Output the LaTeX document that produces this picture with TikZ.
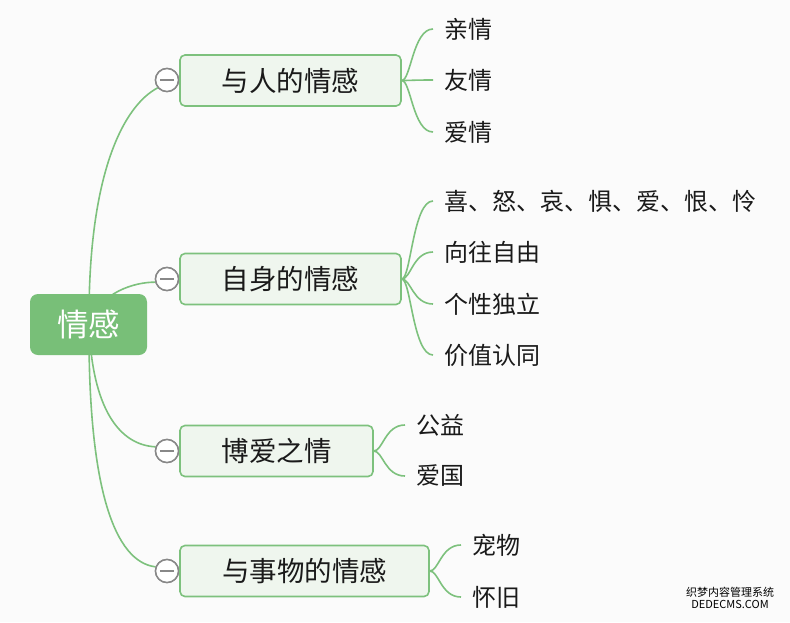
\documentclass[tikz,border=0pt]{standalone}
\usepackage{fontspec}
\setmainfont{Noto Sans CJK SC}
\usetikzlibrary{calc}
\definecolor{lg}{HTML}{7DC17D}
\definecolor{rootg}{HTML}{78BF78}
\definecolor{boxfill}{HTML}{EFF6EE}
\definecolor{cgray}{HTML}{888888}
\definecolor{bgc}{HTML}{FBFBFB}
\definecolor{txt}{HTML}{1A1A1A}
\tikzset{
  rootbox/.style={fill=rootg, rounded corners=8pt, minimum width=117pt, minimum height=61pt, text=white, font=\fontsize{31.5}{33}\selectfont, inner sep=0pt},
  branchbox/.style={draw=lg, fill=boxfill, line width=1.6pt, rounded corners=5pt, minimum height=51pt, text=txt, font=\fontsize{27.5}{29}\selectfont, inner sep=0pt},
  leaf/.style={anchor=west, inner xsep=11pt, inner ysep=0pt, text=txt, font=\fontsize{24}{25}\selectfont},
  conn/.style={draw=lg, line width=1.6pt},
  collapse/.style={circle, draw=cgray, fill=white, line width=1.5pt, minimum size=23pt, inner sep=0pt},
  minusbar/.style={draw=cgray, line width=1.5pt},
}
\begin{document}
\begin{tikzpicture}[x=1pt,y=-1pt]
\fill[bgc] (0,0) rectangle (790,622);
\useasboundingbox (0,0) rectangle (790,622);

% root-to-branch connectors (drawn first, behind nodes)
\coordinate (rc) at (89,324);
\node[collapse] (c1) at (167,80) {};
\node[collapse] (c2) at (167,279) {};
\node[collapse] (c3) at (167,451) {};
\node[collapse] (c4) at (167,571) {};
\draw[conn] (rc) .. controls (88,170) and (125,105) .. (c1.220);
\draw[conn] (rc) .. controls (100,292) and (135,282) .. (c2.195);
\draw[conn] (rc) .. controls (92,410) and (120,445) .. (c3.160);
\draw[conn] (rc) .. controls (88,490) and (115,562) .. (c4.160);

\node[rootbox] (root) at (88.5,324.5) {情感};

% collapse circles on top
\foreach \c in {c1,c2,c3,c4}{
  \node[collapse] at (\c) {};
  \draw[minusbar] ($(\c.west)+(5,0)$) -- ($(\c.east)+(-5,0)$);
}

% branches
\node[branchbox, minimum width=221pt] (b1) at (290.5,80.5) {与人的情感};
\node[branchbox, minimum width=221pt] (b2) at (290.5,279) {自身的情感};
\node[branchbox, minimum width=193pt] (b3) at (276.5,451) {博爱之情};
\node[branchbox, minimum width=249pt] (b4) at (304.5,571) {与事物的情感};

% leaves
\node[leaf] (l11) at (433,29) {亲情};
\node[leaf] (l12) at (433,80) {友情};
\node[leaf] (l13) at (433,132) {爱情};
\node[leaf] (l21) at (433,201) {喜、怒、哀、惧、爱、恨、怜};
\node[leaf] (l22) at (433,252) {向往自由};
\node[leaf] (l23) at (433,304) {个性独立};
\node[leaf] (l24) at (433,355) {价值认同};
\node[leaf] (l31) at (405,425) {公益};
\node[leaf] (l32) at (405,476) {爱国};
\node[leaf] (l41) at (461,545) {宠物};
\node[leaf] (l42) at (461,597) {怀旧};

\foreach \b/\l in {b1/l11,b1/l12,b1/l13,b2/l21,b2/l22,b2/l23,b2/l24,b3/l31,b3/l32,b4/l41,b4/l42}{
  \draw[conn] (\b.east) .. controls +(9,0) and +(-20,0) .. (\l.west);
}

% watermark
\node[font=\fontsize{11}{12.5}\selectfont, align=center, text=black, inner sep=0pt] (wm) at (730,598) {织梦内容管理系统\\DEDECMS.COM};
\end{tikzpicture}
\end{document}
